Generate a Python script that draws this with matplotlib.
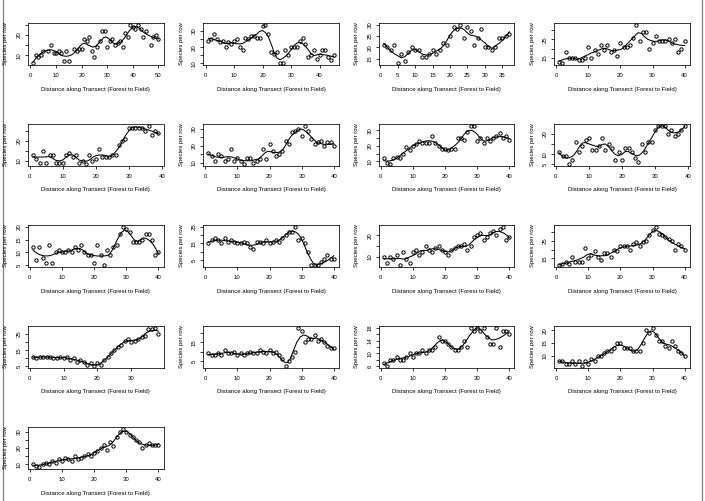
import numpy as np
import matplotlib
matplotlib.use("Agg")
import matplotlib.pyplot as plt
from matplotlib.lines import Line2D

plt.rcParams['font.family'] = ['Liberation Sans', 'DejaVu Sans']

# ---------------- data ----------------
x1 = [1,2,3,4,5,7,8,9,10,11,12,13,14,15,17,18,19,20,21,22,23,24,25,26,27,28,29,30,
      31,32,33,34,35,36,37,38,39,40,41,42,43,44,45,47,48,49,50]
y1 = [6,10,9,10,12,12,15,11,11,12,11,7,12,7,13,12,13,13,18,17,19,12,9,14,17,22,22,14,
      17,18,15,16,17,14,21,19,25,24,23,25,23,19,22,15,19,20,18]
x2 = list(range(1, 46))
y2 = [24,25,28,25,23,24,20,23,22,24,25,20,18,26,25,27,27,26,26,33,34,28,17,16,17,
      10,10,18,15,20,20,20,24,26,22,14,15,18,13,15,18,18,14,12,15]
x3 = list(range(1, 38))
y3 = [21,20,19,21,13,17,14,18,20,19,19,16,16,17,19,17,19,22,21,25,29,28,30,24,29,
      27,21,24,28,20,20,19,20,24,24,25,26]
x4 = list(range(1, 41))
y4 = [13,12,18,15,15,15,14,14,15,21,15,19,17,22,19,22,18,19,16,23,21,21,22,26,33,
      24,29,29,20,23,27,24,24,24,25,23,25,18,20,24]
x5 = list(range(1, 40))
y5 = [13,11,9,15,9,13,13,9,9,9,13,14,12,13,9,10,8,13,10,11,16,12,12,12,13,13,18,20,
      21,27,27,27,27,27,25,28,23,25,24]
x6 = list(range(1, 41))
y6 = [16,14,11,15,14,11,12,18,11,13,11,9,13,13,10,11,12,18,12,21,17,14,15,17,23,21,
      28,29,30,26,32,29,24,21,22,23,20,22,22,20]
x7 = list(range(1, 41))
y7 = [12,9,8,12,13,12,15,19,17,20,21,23,22,22,22,26,22,20,18,18,17,18,18,25,25,24,
      29,33,33,23,25,22,25,23,25,26,28,25,26,24]
x8 = list(range(1, 40))
y8 = [11,9,9,5,7,16,11,14,17,18,12,12,14,18,12,15,13,7,11,7,13,13,11,8,6,15,11,16,16,
      22,24,24,24,20,22,19,20,22,24]
x9 = list(range(1, 41))
y9 = [12,7,12,8,6,13,6,10,11,10,10,11,10,12,11,13,10,9,9,6,13,9,5,11,9,12,13,17,20,19,
      18,14,14,14,15,17,17,15,9,10]
x10 = list(range(1, 41))
y10 = [15,17,18,17,15,18,16,17,16,15,15,16,15,13,12,16,16,15,17,15,16,17,16,18,20,22,
       22,25,17,18,15,10,2,2,2,4,6,8,6,6]
x11 = list(range(1, 41))
y11 = [10,7,10,9,11,6,12,9,7,12,13,11,12,15,13,12,14,15,13,12,11,13,14,15,15,16,13,15,
       19,20,21,18,19,21,22,20,23,24,18,19]
x12 = list(range(1, 41))
y12 = [11,12,13,12,16,13,13,13,21,15,17,19,16,14,18,18,16,20,19,22,22,22,20,23,24,22,
       24,25,28,31,33,29,28,27,26,25,20,23,22,20]
x13 = list(range(1, 39))
y13 = [11,10,11,11,11,11,10,10,11,10,11,9,10,8,9,8,6,7,5,7,6,9,11,13,15,17,18,21,22,20,
       21,22,23,24,28,28,29,25]
x14 = list(range(1, 41))
y14 = [9,8,8,9,8,11,9,9,10,8,9,8,9,10,9,9,11,10,9,11,9,10,8,6,2,5,7,10,23,21,15,17,17,
       19,16,17,15,13,12,12]
x15 = list(range(1, 41))
y15 = [7,6,8,8,9,8,8,9,10,9,10,10,11,10,11,11,12,15,14,14,13,12,11,11,12,14,12,18,17,18,
       17,18,15,13,13,18,12,17,17,16]
x16 = list(range(1, 41))
y16 = [8,8,7,7,8,7,8,6,8,7,9,8,10,10,11,12,12,13,15,15,13,13,13,12,12,12,15,20,19,21,
       18,16,16,14,13,16,14,12,11,10]
x17 = list(range(1, 41))
y17 = [10,9,8,10,11,10,12,11,13,12,14,13,12,15,13,14,15,16,15,17,18,20,22,19,24,21,27,
       30,32,30,28,27,25,24,20,22,23,22,22,22]

xs_all = [x1, x2, x3, x4, x5, x6, x7, x8, x9, x10, x11, x12, x13, x14, x15, x16, x17]
ys_all = [y1, y2, y3, y4, y5, y6, y7, y8, y9, y10, y11, y12, y13, y14, y15, y16, y17]

XLABEL = "Distance along Transect (Forest to Field)"
YLABEL = "Species per row"

# ---------------- helpers ----------------
def loess(x, y, span=0.3, n_out=200):
    x = np.asarray(x, float); y = np.asarray(y, float)
    q = max(int(np.floor(len(x) * span)), 4)
    xs = np.linspace(x.min(), x.max(), n_out)
    ys = np.empty_like(xs)
    for i, x0 in enumerate(xs):
        d = np.abs(x - x0)
        h = np.sort(d)[q - 1] * 1.0001
        u = np.clip(d / h, 0, 1)
        w = np.sqrt((1 - u ** 3) ** 3)
        A = np.vstack([np.ones_like(x), x - x0, (x - x0) ** 2]).T
        coef, *_ = np.linalg.lstsq(A * w[:, None], y * w, rcond=None)
        ys[i] = coef[0]
    return xs, ys


def r_pretty(lo, hi, n=5):
    cell = (hi - lo) / n
    U = 10 ** np.floor(np.log10(cell))
    unit = U
    h, h5 = 0.8, 1.7
    if 2 * U - cell < h * (cell - unit):
        unit = 2 * U
        if 5 * U - cell < h5 * (cell - unit):
            unit = 5 * U
            if 10 * U - cell < h * (cell - unit):
                unit = 10 * U
    start = np.ceil(lo / unit - 1e-9) * unit
    return np.arange(start, hi + 1e-9, unit)


W, H = 705, 501
FPX = 6.0                 # font size in pixels
FS = FPX * 72 / 100       # in points
LW = 0.55

def labels_for(ticks, px_per_unit):
    dw = 0.556 * FPX
    gap = 4.6
    out = []
    last = None
    for t in ticks:
        s = str(int(round(t)))
        w = len(s) * dw
        p = t * px_per_unit
        if last is None or abs(p - last[0]) >= (w / 2 + last[1] / 2 + gap):
            out.append(s)
            last = (p, w)
        else:
            out.append("")
    return out


fig = plt.figure(figsize=(W / 100, H / 100), dpi=100)

BW, BH = 135.5, 42.0
for i, (x, y) in enumerate(zip(xs_all, ys_all)):
    r, c = divmod(i, 4)
    left = 28 + 175.4 * c
    top = 23 + 101.0 * r
    ax = fig.add_axes([left / W, 1 - (top + BH) / H, BW / W, BH / H])
    xmin, xmax = min(x), max(x)
    ymin, ymax = min(y), max(y)
    xl = (xmin - 0.04 * (xmax - xmin), xmax + 0.04 * (xmax - xmin))
    yl = (ymin - 0.04 * (ymax - ymin), ymax + 0.04 * (ymax - ymin))
    ax.plot(x, y, 'o', ms=2.4, mfc='none', mec='black', mew=0.7, clip_on=False)
    sx, sy = loess(x, y, span=0.3)
    ax.plot(sx, sy, color='black', lw=0.75)
    ax.set_xlim(*xl)
    ax.set_ylim(*yl)
    xt = r_pretty(*xl)
    yt = r_pretty(*yl)
    ax.set_xticks(xt)
    ax.set_xticklabels(labels_for(xt, BW / (xl[1] - xl[0])))
    ax.set_yticks(yt)
    ax.set_yticklabels(labels_for(yt, BH / (yl[1] - yl[0])))
    for s in ax.spines.values():
        s.set_linewidth(LW)
    ax.tick_params(axis='both', length=2.2, width=LW, labelsize=FS, color='black')
    ax.tick_params(axis='x', pad=3.4)
    ax.tick_params(axis='y', pad=2.4, labelrotation=90)
    for lab in ax.get_yticklabels():
        lab.set_va('center')
    fig.text((left + BW / 2) / W, 1 - (top + BH + 24) / H, XLABEL,
             fontsize=FS, ha='center', va='center')
    fig.text((left - 22) / W, 1 - (top + BH / 2) / H, YLABEL,
             fontsize=FS, ha='center', va='center', rotation=90)

for xx in (3, 702):
    fig.add_artist(Line2D([xx / W, xx / W], [0, 1], transform=fig.transFigure,
                          color='#808080', lw=0.9))

fig.savefig("out.png", dpi=100)
